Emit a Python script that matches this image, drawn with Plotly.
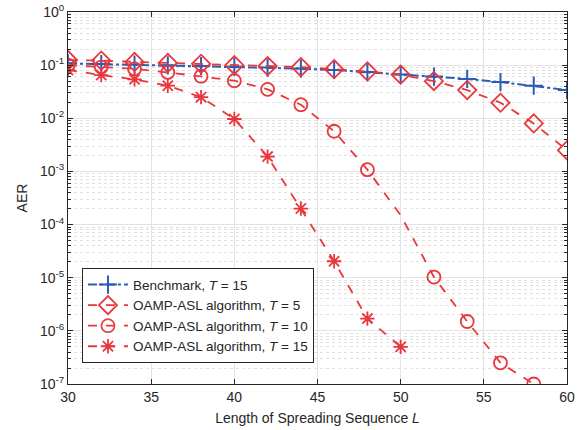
import plotly.graph_objects as go

L = [30, 32, 34, 36, 38, 40, 42, 44, 46, 48, 50, 52, 54, 56, 58, 60]
benchmark_T15 = [0.108, 0.105, 0.102, 0.099, 0.096, 0.093, 0.090, 0.086, 0.081, 0.074,
                 0.067, 0.061, 0.055, 0.048, 0.041, 0.034]
oamp_T5 = [0.125, 0.122, 0.115, 0.110, 0.106, 0.100, 0.096, 0.092, 0.084, 0.076,
           0.066, 0.050, 0.034, 0.0196, 0.008, 0.0025]
L_T10 = [30, 32, 34, 36, 38, 40, 42, 44, 46, 48, 50, 52, 54, 56, 58]
oamp_T10 = [0.100, 0.092, 0.085, 0.073, 0.062, 0.051, 0.035, 0.018, 0.0057, 0.00108,
            1.5e-4, 1.03e-5, 1.5e-6, 2.5e-7, 1.0e-7]
T10_marked = [1, 1, 1, 1, 1, 1, 1, 1, 1, 1, 0, 1, 1, 1, 1]
L_T15 = [30, 32, 34, 36, 38, 40, 42, 44, 46, 48, 50]
oamp_T15 = [0.081, 0.065, 0.054, 0.041, 0.025, 0.0097, 0.0019, 2.0e-4, 2.04e-5, 1.7e-6, 5.0e-7]

ytick_vals = [1e0, 1e-1, 1e-2, 1e-3, 1e-4, 1e-5, 1e-6, 1e-7]
ytick_text = ["10<sup>0</sup>", "10<sup>-1</sup>", "10<sup>-2</sup>", "10<sup>-3</sup>",
              "10<sup>-4</sup>", "10<sup>-5</sup>", "10<sup>-6</sup>", "10<sup>-7</sup>"]
xtick_vals = [30, 35, 40, 45, 50, 55, 60]

BLUE = "#2B5BB5"
RED = "#E8373D"

fig = go.Figure()
fig.add_trace(go.Scatter(
    x=L, y=benchmark_T15, mode="lines+markers", name="Benchmark, <i>T</i> = 15",
    line=dict(color=BLUE, width=2, dash="dashdot"),
    marker=dict(symbol="cross-thin-open", size=13, line=dict(color=BLUE, width=2)),
))
fig.add_trace(go.Scatter(
    x=L, y=oamp_T5, mode="lines+markers", name="OAMP-ASL algorithm, <i>T</i> = 5",
    line=dict(color=RED, width=1.8, dash="dash"),
    marker=dict(symbol="diamond-open", size=14, line=dict(color=RED, width=1.8)),
))
fig.add_trace(go.Scatter(
    x=L_T10, y=oamp_T10, mode="lines+markers", name="OAMP-ASL algorithm, <i>T</i> = 10",
    line=dict(color=RED, width=1.8, dash="dash"),
    marker=dict(symbol="circle-open", size=13, opacity=T10_marked,
                line=dict(color=RED, width=1.8)),
))
fig.add_trace(go.Scatter(
    x=L_T15, y=oamp_T15, mode="lines+markers", name="OAMP-ASL algorithm, <i>T</i> = 15",
    line=dict(color=RED, width=1.8, dash="dash"),
    marker=dict(symbol="asterisk-open", size=12, line=dict(color=RED, width=1.8)),
))

axis_common = dict(
    showline=True, linecolor="#262626", linewidth=1, mirror="ticks",
    ticks="inside", tickcolor="#262626", ticklen=5,
    showgrid=True, gridcolor="#E3E3E3", gridwidth=1,
    zeroline=False, automargin=False, ticklabeloverflow="allow",
    tickfont=dict(family="Liberation Sans, Arial", size=14, color="#262626"),
)

fig.update_layout(
    width=582, height=430,
    margin=dict(l=68, r=15, t=12, b=46),
    paper_bgcolor="white", plot_bgcolor="white",
    font=dict(family="Liberation Sans, Arial", size=14, color="#262626"),
    xaxis=dict(
        range=[30, 60], tickvals=xtick_vals,
        title=dict(text="Length of Spreading Sequence <i>L</i>", standoff=9,
                   font=dict(size=14, color="#262626")),
        **axis_common,
    ),
    yaxis=dict(
        type="log", range=[-7, 0], tickvals=ytick_vals, ticktext=ytick_text,
        title=dict(text="AER", standoff=9, font=dict(size=14, color="#262626")),
        minor=dict(ticks="inside", ticklen=3, tickcolor="#262626",
                   showgrid=True, gridcolor="#E0E0E0", griddash="dot", dtick="D1"),
        **axis_common,
    ),
    legend=dict(
        x=0.028, y=0.311, xanchor="left", yanchor="top",
        bgcolor="white", bordercolor="#262626", borderwidth=1,
        font=dict(size=13.5, color="#262626"),
        tracegroupgap=0, itemwidth=40,
    ),
    showlegend=True,
)

# remove the browser's default 8px body margin so the figure fills the window
fig.write_html("out.html", config={"displayModeBar": False},
               post_script="document.body.style.margin='0px';")
